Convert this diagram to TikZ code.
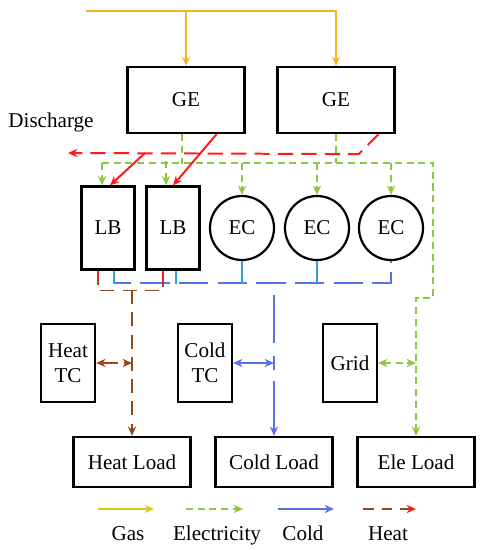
\documentclass[tikz,border=0pt]{standalone}
\usepackage{fontspec}
\setmainfont{Liberation Serif}
\usetikzlibrary{arrows.meta,calc}

\definecolor{gasc}{HTML}{F7B325}
\definecolor{gaslegc}{HTML}{D6CB1A}
\definecolor{elec}{HTML}{8DC63F}
\definecolor{heatc}{HTML}{FF1A1A}
\definecolor{heatbr}{HTML}{8E4A1C}
\definecolor{coldc}{HTML}{5B72E6}
\definecolor{colddrop}{HTML}{2D9FE8}

\tikzset{every node/.style={font=\fontsize{18}{21}\selectfont, align=center}}
\tikzset{
  box/.style={draw, line width=1.9pt, inner sep=0pt},
  gebox/.style={box, minimum width=3.51cm, minimum height=1.98cm},
  lbbox/.style={box, minimum width=1.59cm, minimum height=2.49cm},
  tcbox/.style={box, minimum width=1.62cm, minimum height=2.34cm},
  loadbox/.style={box, minimum width=3.51cm, minimum height=1.5cm},
  ecunit/.style={draw, circle, line width=1.9pt, minimum size=1.92cm, inner sep=0pt},
  arr/.style={-{Stealth[length=8pt,width=7pt]}},
  arrboth/.style={{Stealth[length=8pt,width=7pt]}-{Stealth[length=8pt,width=7pt]}},
  gasline/.style={gasc, line width=1.5pt, arr},
  eleline/.style={elec, line width=1.5pt, dash pattern=on 6pt off 4pt},
  heatline/.style={heatc, line width=1.7pt, dash pattern=on 13pt off 7pt},
  brownline/.style={heatbr, line width=1.5pt, dash pattern=on 12pt off 7pt},
  coldline/.style={coldc, line width=1.5pt},
  dropline/.style={colddrop, line width=1.5pt}
}

\begin{document}
\begin{tikzpicture}[x=0.03cm, y=-0.03cm]
  \useasboundingbox (0,0) rectangle (483,550);

  \node[gebox] (ge1) at (186,100) {GE};
  \node[gebox] (ge2) at (336,100) {GE};
  \node (dis) at (51,122) {Discharge};
  \node[lbbox] (lb1) at (108,228) {LB};
  \node[lbbox] (lb2) at (173,228) {LB};
  \node[ecunit] (ec1) at (242,228) {EC};
  \node[ecunit] (ec2) at (317,228) {EC};
  \node[ecunit] (ec3) at (391,228) {EC};
  \node[tcbox] (heattc) at (68,363) {Heat\\TC};
  \node[tcbox] (coldtc) at (205,363) {Cold\\TC};
  \node[tcbox] (grid) at (350,363) {Grid};
  \node[loadbox] (heat) at (132,462) {Heat Load};
  \node[loadbox] (cold) at (274,462) {Cold Load};
  \node[loadbox] (ele) at (416,462) {Ele Load};

  \coordinate (gas) at (86,11);
  \coordinate (dout) at (68,153);
  \coordinate (dj) at (145,153);
  \coordinate (busL) at (102,163);
  \coordinate (busR) at (433,163);
  \coordinate (cj) at (274,283);
  \coordinate (hj) at (132,290);

  \draw[gasline] (gas) -| (ge2.north);
  \draw[gasline] (gas -| ge1.north) -- (ge1.north);

  \draw[eleline] ($(ge1.south)+(-4,0)$) -- ($(ge1.south)+(-4,30)$);
  \draw[eleline] (ge2.south) -- (ge2.south |- busL);
  \draw[eleline, arr] (busL) -- (busR) -- ++(0,135) -| (ele.north);
  \draw[eleline, arr] (busL) -- (busL |- lb1.north);
  \draw[eleline, arr] ($(lb2.north)+(-7,-24)$) -- ++(0,24);
  \foreach \n in {ec1,ec2,ec3}
    \draw[eleline, arr] (busL -| \n.north) -- (\n.north);
  \draw[eleline, arrboth] (grid.east) -- (grid.east -| ele.north);

  \draw[heatline, arr] ($(ge2.south east)+(-17,0)$) -- ++(-20,20) -- (dout);
  \draw[heatc, line width=1.7pt, arr] (dj) -- ($(lb1.north)+(2,0)$);
  \draw[heatc, line width=1.7pt, arr] ($(ge1.south east)+(-29,0)$) -- (lb2.north);

  \draw[coldline, dash pattern=on 25pt off 8pt] ($(lb1.south)+(6,0)$) |- (ec3.south |- cj) -- (ec3.south);
  \foreach \n in {ec1,ec2}
    \draw[dropline] (\n.south) -- (\n.south |- cj);
  \draw[dropline] ($(lb1.south)+(6,0)$) -- ++(0,13);
  \draw[dropline] ($(lb2.south)+(3,0)$) -- ++(0,13);
  \draw[coldline, arr, dash pattern=on 0pt off 10pt on 41pt off 11pt on 12pt off 10pt on 80pt] (cj) -- (cold.north);
  \draw[coldline, arrboth] (coldtc.east) -- (coldtc.east -| cold.north);

  \draw[brownline] ($(lb1.south)+(-10,0)$) -- ++(0,20) -- ($(lb2.south)+(-10,20)$) -- ($(lb2.south)+(-10,0)$);
  \draw[heatc, line width=1.5pt] ($(lb1.south)+(-10,0)$) -- ++(0,9);
  \draw[heatc, line width=1.5pt] ($(lb2.south)+(-10,0)$) -- ++(0,9);
  \draw[brownline, arr] (hj) -- (heat.north);
  \draw[heatbr!80!heatc, line width=1.5pt, arrboth, dash pattern=on 14pt off 5pt] (heattc.east) -- (heattc.east -| heat.north);

  \node[anchor=base] (lgas) at (128,540) {Gas};
  \node[anchor=base] (lele) at (217,540) {Electricity};
  \node[anchor=base] (lcold) at (303,540) {Cold};
  \node[anchor=base] (lheat) at (388,540) {Heat};
  \draw[gaslegc, line width=1.5pt, arr] ($(lgas.base)+(-30,-31)$) -- ++(56,0);
  \draw[eleline, arr] ($(lele.base)+(-31,-31)$) -- ++(57,0);
  \draw[coldline, arr] ($(lcold.base)+(-25,-31)$) -- ++(56,0);
  \draw[heatbr, line width=1.5pt, dash pattern=on 9pt off 7pt, -{Stealth[length=8pt,width=7pt,color=heatc]}] ($(lheat.base)+(-25,-31)$) -- ++(53,0);
\end{tikzpicture}
\end{document}
